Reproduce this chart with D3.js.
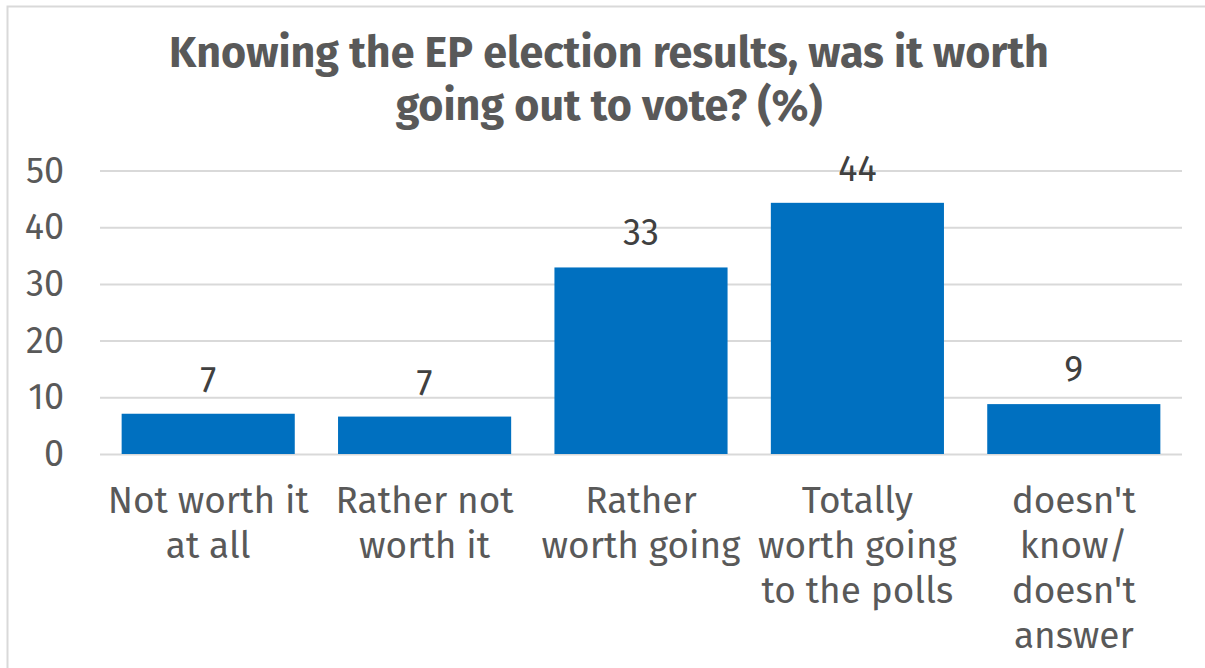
<!DOCTYPE html>
<html>
<head>
<meta charset="utf-8">
<script src="https://cdn.jsdelivr.net/npm/d3@7"></script>
<style>
  body { margin: 0; background: #fff; }
  text { font-family: "Fira Sans", Roboto, "Noto Sans", sans-serif; }
</style>
</head>
<body>
<div id="chart"></div>
<script>
// data
const categories = [
    ["Not worth it", "at all"],
    ["Rather not", "worth it"],
    ["Rather", "worth going"],
    ["Totally", "worth going", "to the polls"],
    ["doesn't", "know/", "doesn't", "answer"]
];
const values = [7.1, 6.6, 32.9, 44.3, 8.8];
const valueLabels = ["7", "7", "33", "44", "9"];
const yTicks = [0, 10, 20, 30, 40, 50];
const titleLines = ["Knowing the EP election results, was it worth", "going out to vote? (%)"];

const width = 1205, height = 668;
const plot = { left: 100, right: 1182, top: 170.5, bottom: 454 };

const svg = d3.select("#chart")
    .append("svg")
    .attr("width", width)
    .attr("height", height);

svg.append("rect").attr("width", width).attr("height", height).attr("fill", "#fff");

// frame (only top and left edges visible)
svg.append("path")
    .attr("d", "M7.5," + height + "V6.5H" + width)
    .attr("fill", "none")
    .attr("stroke", "#d9d9d9")
    .attr("stroke-width", 2);

// title
svg.append("text")
    .attr("x", 609)
    .attr("y", 67)
    .attr("text-anchor", "middle")
    .attr("fill", "#595959")
    .style("font-size", "43px")
    .style("font-weight", "bold")
    .selectAll("tspan")
    .data(titleLines)
    .enter()
    .append("tspan")
    .attr("x", 609)
    .attr("dy", (d, i) => i === 0 ? 0 : 53)
    .text(d => d);

const x = d3.scaleBand()
    .domain(d3.range(values.length))
    .range([plot.left, plot.right])
    .paddingInner(0.2)
    .paddingOuter(0.1);

const y = d3.scaleLinear()
    .domain([0, 50])
    .range([plot.bottom, plot.top]);

// gridlines + y labels
const yAxis = svg.append("g")
    .attr("transform", "translate(" + plot.left + ",0)")
    .call(d3.axisLeft(y).tickValues(yTicks).tickSize(-(plot.right - plot.left)).tickPadding(36));
yAxis.select(".domain").remove();
yAxis.selectAll(".tick line").attr("stroke", "#d9d9d9").attr("stroke-width", 2);
yAxis.selectAll(".tick text")
    .attr("fill", "#595959")
    .style("font-size", "36px")
    .style("font-family", "\"Fira Sans\", Roboto, \"Noto Sans\", sans-serif");

// bars
svg.selectAll(".bar")
    .data(values)
    .enter()
    .append("rect")
    .attr("class", "bar")
    .attr("x", (d, i) => x(i))
    .attr("y", d => y(d))
    .attr("width", x.bandwidth())
    .attr("height", d => y(0) - y(d))
    .attr("fill", "#0070c0");

// value labels
svg.selectAll(".vlabel")
    .data(values)
    .enter()
    .append("text")
    .attr("class", "vlabel")
    .attr("x", (d, i) => x(i) + x.bandwidth() / 2)
    .attr("y", d => y(d) - 22)
    .attr("text-anchor", "middle")
    .attr("fill", "#404040")
    .style("font-size", "36px")
    .text((d, i) => valueLabels[i]);

// category labels
const cat = svg.selectAll(".cat")
    .data(categories)
    .enter()
    .append("text")
    .attr("class", "cat")
    .attr("text-anchor", "middle")
    .attr("fill", "#595959")
    .style("font-size", "37px");
cat.selectAll("tspan")
    .data((d, i) => d.map(line => ({ line: line, i: i })))
    .enter()
    .append("tspan")
    .attr("x", d => x(d.i) + x.bandwidth() / 2)
    .attr("y", (d, j) => 513 + j * 45)
    .text(d => d.line);
</script>
</body>
</html>
